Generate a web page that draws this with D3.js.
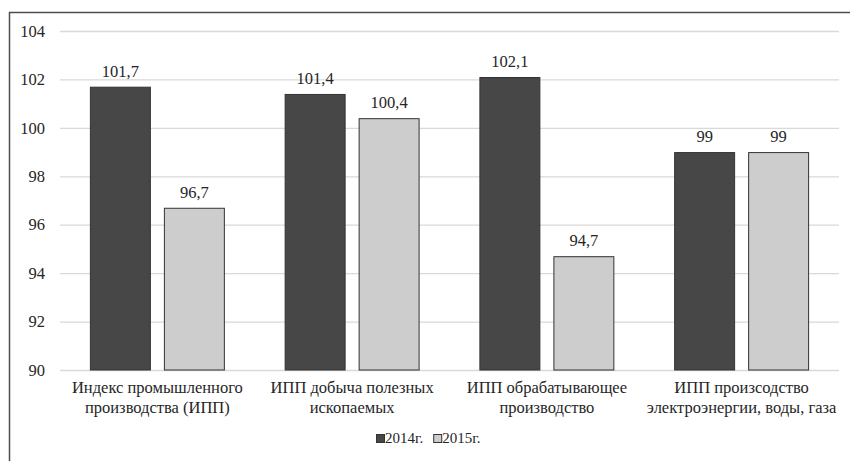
<!DOCTYPE html>
<html>
<head>
<meta charset="utf-8">
<script src="https://cdn.jsdelivr.net/npm/d3@7/dist/d3.min.js"></script>
<style>
  html, body { margin: 0; padding: 0; background: #fff; }
  svg { display: block; }
</style>
</head>
<body>
<svg id="chart" width="850" height="461"></svg>
<script>
// Индексы промышленного производства, % к предыдущему году
const categories = [
  ["Индекс промышленного", "производства (ИПП)"],
  ["ИПП добыча полезных", "ископаемых"],
  ["ИПП обрабатывающее", "производство"],
  ["ИПП произсодство", "электроэнергии, воды, газа"]
];
const seriesNames = ["2014г.", "2015г."];
const values2014 = [101.7, 101.4, 102.1, 99];
const values2015 = [96.7, 100.4, 94.7, 99];
const yTicks = [90, 92, 94, 96, 98, 100, 102, 104];

const seriesValues = [values2014, values2015];
const colors = ["#474747", "#cdcdcd"];
const FONT = "'Liberation Serif', 'Times New Roman', serif";
const INK = "#262626";

const svg = d3.select("#chart");
const W = 850, H = 461;
const plot = { left: 60, right: 839, top: 31, bottom: 370 };

// outer frame (right and bottom edges fall outside the canvas)
svg.append("rect")
  .attr("x", 9.5).attr("y", 12.5)
  .attr("width", W + 20).attr("height", H + 20)
  .attr("fill", "none").attr("stroke", "#4d4d4d").attr("stroke-width", 1.5);

const y = d3.scaleLinear().domain([90, 104]).range([plot.bottom, plot.top]);
const x0 = d3.scaleBand().domain(d3.range(categories.length))
  .range([plot.left, plot.right]).paddingInner(0.307).paddingOuter(0.1535);
const x1 = d3.scaleBand().domain(d3.range(seriesNames.length))
  .range([0, x0.bandwidth()]).paddingInner(0.176).paddingOuter(0);

// gridlines + y labels
const yAxis = d3.axisLeft(y).tickValues(yTicks)
  .tickSize(-(plot.right - plot.left)).tickPadding(15).tickFormat(d3.format("d"));
const gy = svg.append("g").attr("transform", `translate(${plot.left},0)`).call(yAxis);
gy.select(".domain").remove();
gy.selectAll(".tick line").attr("stroke", "#d9d9d9").attr("stroke-width", 1.3);
gy.selectAll(".tick text")
  .style("font-family", FONT).style("font-size", "16.5px").style("fill", INK);

const fmt = v => (Number.isInteger(v) ? String(v) : v.toFixed(1).replace(".", ","));

// bars
const groups = svg.append("g").selectAll("g")
  .data(categories.map((c, i) => i))
  .join("g")
  .attr("transform", i => `translate(${x0(i)},0)`);

groups.selectAll("rect")
  .data(i => seriesValues.map((s, k) => ({ k, v: s[i] })))
  .join("rect")
  .attr("x", d => x1(d.k) + 0.5)
  .attr("y", d => y(d.v) + 0.5)
  .attr("width", x1.bandwidth() - 1)
  .attr("height", d => y(90) - y(d.v) - 0.5)
  .attr("fill", d => colors[d.k])
  .attr("stroke", "#333")
  .attr("stroke-width", 1);

// value labels
groups.selectAll("text.val")
  .data(i => seriesValues.map((s, k) => ({ k, v: s[i] })))
  .join("text")
  .attr("class", "val")
  .attr("x", d => x1(d.k) + x1.bandwidth() / 2)
  .attr("y", d => y(d.v) - 10)
  .attr("text-anchor", "middle")
  .style("font-family", FONT).style("font-size", "16.5px").style("fill", INK)
  .text(d => fmt(d.v));

// category labels
const xl = svg.append("g");
categories.forEach((lines, i) => {
  const cx = x0(i) + x0.bandwidth() / 2;
  const t = xl.append("text")
    .attr("x", cx)
    .attr("y", 393)
    .attr("text-anchor", "middle")
    .style("font-family", FONT).style("font-size", "16.5px").style("fill", INK);
  lines.forEach((ln, j) => {
    t.append("tspan").attr("x", cx).attr("dy", j ? 19.5 : 0).text(ln);
  });
});

// legend
const leg = svg.append("g").attr("transform", "translate(376,443)");
let lx = 0;
seriesNames.forEach((name, k) => {
  leg.append("rect").attr("x", lx + 0.5).attr("y", -8.5).attr("width", 8).attr("height", 8)
    .attr("fill", colors[k]).attr("stroke", "#333").attr("stroke-width", 1);
  const t = leg.append("text").attr("x", lx + 9).attr("y", 0)
    .style("font-family", FONT).style("font-size", "15px").style("fill", INK)
    .text(name);
  lx += 9 + t.node().getComputedTextLength() + 10;
});
</script>
</body>
</html>
